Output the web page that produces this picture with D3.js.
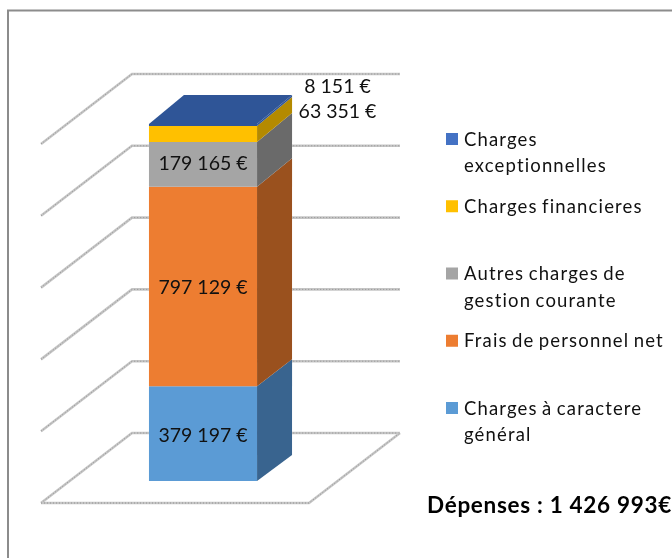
<!DOCTYPE html>
<meta charset="utf-8">
<script src="https://d3js.org/d3.v7.min.js"></script>
<style>
    html, body { margin: 0; padding: 0; background: #fff; }
    svg { display: block; filter: blur(0.35px); }
    text { font-family: Lato, "Open Sans", sans-serif; fill: #111; }
    .grid { fill: none; stroke: #c6c6c6; stroke-width: 2.6; }
    .gridDots { fill: none; stroke: #929292; stroke-width: 1; stroke-dasharray: 1 2; }
    .label { font-size: 19.5px; text-anchor: middle; }
    .legendText { font-size: 18.5px; letter-spacing: 1.15px; word-spacing: -1.5px; }
    .total { font-size: 22.5px; font-weight: bold; fill: #000; letter-spacing: 0.7px; }
</style>
<body>
<svg width="672" height="558" class="chart"></svg>
</body>

<script>
    // bottom to top, same order as the stack
    const categories = ['Charges à caractere général', 'Frais de personnel net', 'Autres charges de gestion courante', 'Charges financieres', 'Charges exceptionnelles'];
    const values = [379197, 797129, 179165, 63351, 8151];
    const valueLabels = ['379 197 €', '797 129 €', '179 165 €', '63 351 €', '8 151 €'];
    const legendLines = [['Charges à caractere', 'général'], ['Frais de personnel net'], ['Autres charges de', 'gestion courante'], ['Charges financieres'], ['Charges', 'exceptionnelles']];
    const frontColors = ['#5b9bd5', '#ed7d31', '#a5a5a5', '#ffc000', '#2f5597'];
    const sideColors = ['#39648f', '#9a511e', '#6a6a6a', '#b48a00', '#2f5597'];
    const gridTicks = [0, 300000, 600000, 900000, 1200000, 1500000];
    const totalLabel = 'Dépenses : 1 426 993€';

    const svg = d3.select('.chart');
    const total = d3.sum(values);
    const stacked = d3.cumsum(values);

    const depthX = 35;
    const floorDepthX = 91;

    const x = d3.scaleBand().domain(['Dépenses']).range([69, 337]).paddingInner(0).paddingOuter(0.74);
    const yFront = d3.scaleLinear().domain([0, total]).range([481, 124]);
    const yBack = d3.scaleLinear().domain([0, total]).range([455, 95]);
    const yWall = d3.scaleLinear().domain([0, 1500000]).range([433, 74]);

    const line = d3.line();

    // outer frame, open on the right and at the bottom
    svg.append('path')
        .attr('d', 'M8,558V10.5H672')
        .attr('fill', 'none')
        .attr('stroke', '#8c8c8c')
        .attr('stroke-width', 2);

    // wall and floor
    const wallX = 132, wallRight = 400, floorLeft = wallX - floorDepthX, floorRight = wallRight - floorDepthX;

    function drawGrid(points) {
        svg.append('path').attr('class', 'grid').attr('d', line(points));
        svg.append('path').attr('class', 'gridDots').attr('d', line(points));
    }

    gridTicks.forEach(t => {
        const y0 = yWall(t);
        drawGrid([[floorLeft, y0 + 70], [wallX, y0], [wallRight, y0]]);
    });
    drawGrid([[floorLeft, yWall(0) + 70], [floorRight, yWall(0) + 70], [wallRight, yWall(0)]]);

    // stacked column
    const left = x('Dépenses'), right = left + x.bandwidth();
    const column = svg.append('g');

    values.forEach((v, i) => {
        const from = i ? stacked[i - 1] : 0, to = stacked[i];
        column.append('path')
            .attr('fill', frontColors[i])
            .attr('d', line([[left, yFront(from)], [right, yFront(from)], [right, yFront(to)], [left, yFront(to)]]) + 'Z');
        column.append('path')
            .attr('fill', sideColors[i])
            .attr('d', line([[right, yFront(from)], [right + depthX, yBack(from)], [right + depthX, yBack(to)], [right, yFront(to)]]) + 'Z');
    });

    column.append('path')
        .attr('fill', '#2f5597')
        .attr('d', line([[left, yFront(total)], [left + depthX, yBack(total)], [right + depthX, yBack(total)], [right, yFront(total)]]) + 'Z');

    // value labels, the two small ones sit outside the column
    const labelAt = [
        [x('Dépenses') + x.bandwidth() / 2, 442],
        [x('Dépenses') + x.bandwidth() / 2, 294],
        [x('Dépenses') + x.bandwidth() / 2, 170],
        [337.5, 118],
        [337.5, 93]
    ];

    svg.selectAll('.label')
        .data(valueLabels)
        .enter()
        .append('text')
        .attr('class', 'label')
        .attr('x', (d, i) => labelAt[i][0])
        .attr('y', (d, i) => labelAt[i][1])
        .text(d => d);

    // legend
    const legendY = d3.scalePoint().domain(categories).range([408, 139]);

    const legend = svg.selectAll('.legendItem')
        .data(categories)
        .enter()
        .append('g')
        .attr('class', 'legendItem')
        .attr('transform', d => 'translate(446,' + legendY(d) + ')');

    legend.append('rect')
        .attr('y', -6)
        .attr('width', 12)
        .attr('height', 12)
        .attr('fill', (d, i) => i === 4 ? '#4472c4' : frontColors[i]);

    legend.each(function (d, i) {
        d3.select(this).selectAll('text')
            .data(legendLines[i])
            .enter()
            .append('text')
            .attr('class', 'legendText')
            .attr('x', 18)
            .attr('y', (l, j) => 6.5 + j * 26.5)
            .text(l => l);
    });

    svg.append('text')
        .attr('class', 'total')
        .attr('x', 427)
        .attr('y', 513)
        .text(totalLabel);
</script>
